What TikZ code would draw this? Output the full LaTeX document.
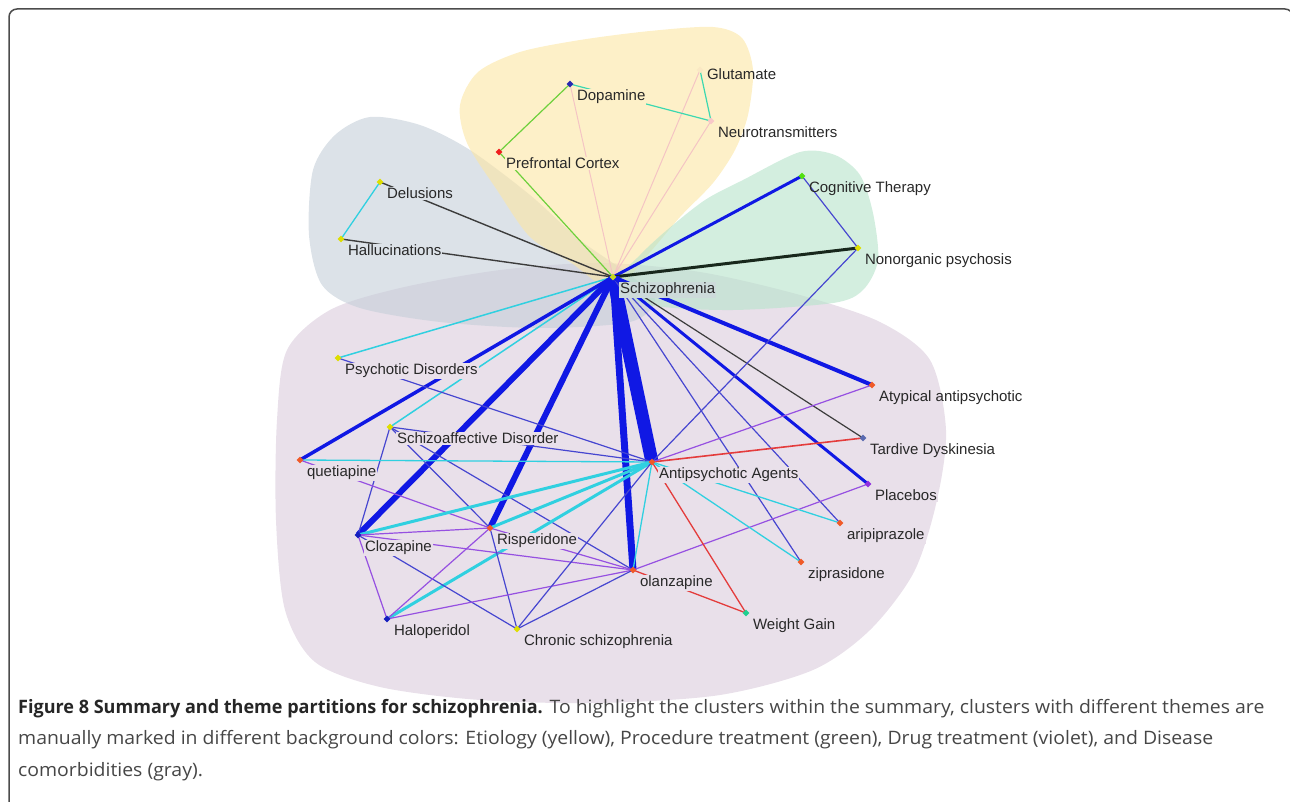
\documentclass[tikz,border=0pt]{standalone}
\usepackage{fontspec}
\usetikzlibrary{shapes.geometric}
\newfontfamily\lblfont{Liberation Sans}
\newfontfamily\capfont[FakeStretch=1.05, BoldFeatures={FakeStretch=0.975}]{Open Sans}
\definecolor{vbg}{RGB}{233,224,234}
\definecolor{gbg}{RGB}{220,226,232}
\definecolor{ybg}{RGB}{253,240,200}
\definecolor{sbg}{RGB}{205,218,218}
\definecolor{hullV}{RGB}{218,203,220}
\definecolor{hullG}{RGB}{197,207,217}
\definecolor{hullY}{RGB}{252,230,163}
\definecolor{hullN}{RGB}{182,227,202}
\definecolor{thickblue}{RGB}{16,24,228}
\definecolor{thinblue}{RGB}{70,70,208}
\definecolor{cyanline}{RGB}{48,208,224}
\definecolor{violine}{RGB}{150,80,225}
\definecolor{redline}{RGB}{228,60,60}
\definecolor{greenline}{RGB}{110,208,60}
\definecolor{pinkline}{RGB}{244,196,196}
\definecolor{tealline}{RGB}{60,216,176}
\definecolor{darkline}{RGB}{60,60,60}
\definecolor{nonline}{RGB}{24,40,28}
\definecolor{mkorange}{RGB}{240,90,40}
\definecolor{mkyellow}{RGB}{222,222,0}
\definecolor{mkblue}{RGB}{20,30,190}
\definecolor{mkschiz}{RGB}{200,216,32}
\definecolor{mkdopa}{RGB}{40,40,176}
\definecolor{mkglut}{RGB}{250,232,196}
\definecolor{mkneuro}{RGB}{248,200,200}
\definecolor{mkpfc}{RGB}{240,30,30}
\definecolor{mkcogn}{RGB}{80,224,16}
\definecolor{mktard}{RGB}{90,106,176}
\definecolor{mkplac}{RGB}{144,48,224}
\definecolor{mkwgain}{RGB}{32,208,144}
\definecolor{lbltxt}{RGB}{40,40,40}
\definecolor{captxt}{RGB}{70,70,70}
\pgfdeclarelayer{hulls}
\pgfdeclarelayer{edges}
\pgfsetlayers{hulls,edges,main}
\begin{document}
\begin{tikzpicture}[x=1pt, y=-1pt,
	mk/.style={diamond, fill=#1, inner sep=0pt, minimum size=7pt},
	lbl/.style={font=\lblfont\fontsize{15}{18}\selectfont, text=lbltxt, fill=#1, inner sep=1pt, xshift=4pt, yshift=-3pt},
	lbl/.default=none,
	edgeB/.style={draw=thickblue, line width=#1},
	edgeT/.style={draw=thinblue, line width=1.2pt},
	edgeC/.style={draw=cyanline, line width=#1},
	edgeC/.default=1.3pt,
	edgeV/.style={draw=violine, line width=1.2pt},
	edgeR/.style={draw=redline, line width=1.3pt},
	edgeK/.style={draw=darkline, line width=1.4pt},
	edgeG/.style={draw=greenline, line width=1.2pt},
	edgeP/.style={draw=pinkline, line width=1pt},
	edgeQ/.style={draw=tealline, line width=1.2pt},
	hull/.style={fill=#1, fill opacity=0.6, draw=none}]
\useasboundingbox (0,0) rectangle (1290,802);
\draw[rounded corners=8pt, line width=1.5pt, draw=black!70] (9,9) rectangle (1293,830);
\node[mk=mkschiz, label={[lbl=sbg, name=schizL]below right:Schizophrenia}] (schiz) at (613,277) {};
\node[mk=mkdopa, label={[lbl=ybg, name=dopaL]below right:Dopamine}] (dopa) at (570,84) {};
\node[mk=mkglut, label={[lbl, name=glutL, yshift=7pt]below right:Glutamate}] (glut) at (700,70) {};
\node[mk=mkneuro, label={[lbl, name=neuroL]below right:Neurotransmitters}] (neuro) at (711,121) {};
\node[mk=mkpfc, label={[lbl=ybg, name=pfcL]below right:Prefrontal Cortex}] (pfc) at (499,152) {};
\node[mk=mkyellow, label={[lbl=gbg, name=deluL]below right:Delusions}] (delu) at (380,182) {};
\node[mk=mkyellow, label={[lbl=gbg, name=hallL]below right:Hallucinations}] (hall) at (341,239) {};
\node[mk=mkcogn, label={[lbl, name=cognL]below right:Cognitive Therapy}] (cogn) at (802,176) {};
\node[mk=mkyellow, label={[lbl, name=nonorgL]below right:Nonorganic psychosis}] (nonorg) at (858,248) {};
\node[mk=mkyellow, label={[lbl=vbg, name=psydisL]below right:Psychotic Disorders}] (psydis) at (338,358) {};
\node[mk=mkyellow, label={[lbl=vbg, name=schaffL]below right:Schizoaffective Disorder}] (schaff) at (390,427) {};
\node[mk=mkorange, label={[lbl=vbg, name=quetL]below right:quetiapine}] (quet) at (300,460) {};
\node[mk=mkorange, label={[lbl=vbg, name=apaL]below right:Antipsychotic Agents}] (apa) at (652,462) {};
\node[mk=mkorange, label={[lbl, name=atypL]below right:Atypical antipsychotic}] (atyp) at (872,385) {};
\node[mk=mktard, label={[lbl, name=tardL]below right:Tardive Dyskinesia}] (tard) at (863,438) {};
\node[mk=mkplac, label={[lbl=vbg, name=placL]below right:Placebos}] (plac) at (868,484) {};
\node[mk=mkorange, label={[lbl=vbg, name=aripL]below right:aripiprazole}] (arip) at (840,523) {};
\node[mk=mkorange, label={[lbl=vbg, name=ziprL]below right:ziprasidone}] (zipr) at (801,562) {};
\node[mk=mkwgain, label={[lbl=vbg, name=wgainL]below right:Weight Gain}] (wgain) at (746,613) {};
\node[mk=mkorange, label={[lbl=vbg, name=olanL]below right:olanzapine}] (olan) at (633,570) {};
\node[mk=mkorange, label={[lbl=vbg, name=rispL]below right:Risperidone}] (risp) at (490,528) {};
\node[mk=mkblue, label={[lbl=vbg, name=clozL]below right:Clozapine}] (cloz) at (358,535) {};
\node[mk=mkblue, label={[lbl=vbg, name=haloL]below right:Haloperidol}] (halo) at (387,619) {};
\node[mk=mkyellow, label={[lbl=vbg, name=chronL]below right:Chronic schizophrenia}] (chron) at (517,629) {};
\node[anchor=north west, align=left, inner sep=0pt, text=captxt, font=\capfont\fontsize{18.5}{31.5}\selectfont] (cap) at (18,699) {{\bfseries\color{black!85}Figure 8 Summary and theme partitions for schizophrenia.} To highlight the clusters within the summary, clusters with different themes are\\ manually marked in different background colors: Etiology (yellow), Procedure treatment (green), Drug treatment (violet), and Disease\\ comorbidities (gray).};
\begin{pgfonlayer}{hulls}
\path[hull=hullV] plot[smooth cycle] coordinates {(277,420) (287,350) (330,310) (400,288) (500,270) (600,263) (700,272) (800,295) (880,322) (930,360) (946,430) (937,500) (914,572) (870,630) (813,670) (720,695) (600,703) (480,700) (380,687) (315,662) (285,610) (276,520)};
\path[hull=hullG] plot[smooth cycle] coordinates {(313,170) (335,135) (370,117) (420,125) (470,150) (530,195) (580,240) (630,275) (655,300) (630,322) (540,328) (440,322) (360,308) (322,285) (309,235)};
\path[hull=hullY] plot[smooth cycle] coordinates {(613,290) (570,262) (530,237) (497,190) (467,143) (460,105) (478,72) (520,52) (580,40) (650,31) (713,27) (742,38) (753,70) (748,115) (735,150) (713,183) (680,217) (645,258)};
\path[hull=hullN] plot[smooth cycle] coordinates {(615,285) (640,255) (667,230) (705,200) (743,180) (800,152) (835,155) (860,175) (873,213) (878,260) (863,290) (833,303) (733,310) (650,305)};
\end{pgfonlayer}
\begin{pgfonlayer}{edges}
\draw[edgeK] (schiz.center) to (delu.center);
\draw[edgeK] (schiz.center) to (hall.center);
\draw[edgeG] (schiz.center) to (pfc.center);
\draw[edgeP] (schiz.center) to (dopa.center);
\draw[edgeP] (schiz.center) to (glut.center);
\draw[edgeP] (schiz.center) to (neuro.center);
\draw[edgeB=3pt] (schiz.center) to (cogn.center);
\draw[draw=nonline, line width=3pt] (schiz.center) to (nonorg.center);
\draw[edgeC=1.5pt] (schiz.center) to (psydis.center);
\draw[edgeC=1.5pt] (schiz.center) to (schaff.center);
\draw[edgeB=3.5pt] (schiz.center) to (quet.center);
\draw[edgeB=6pt] (schiz.center) to (cloz.center);
\draw[edgeB=6pt] (schiz.center) to (risp.center);
\draw[edgeB=7pt] (schiz.center) to (olan.center);
\draw[edgeB=13pt] (schiz.center) to (apa.center);
\draw[edgeT] (schiz.center) to (zipr.center);
\draw[edgeT] (schiz.center) to (arip.center);
\draw[edgeK, line width=1.2pt] (schiz.center) to (tard.center);
\draw[edgeB=3pt] (schiz.center) to (plac.center);
\draw[edgeB=4pt] (schiz.center) to (atyp.center);
\draw[edgeT] (cogn.center) to (nonorg.center);
\draw[edgeT] (nonorg.center) to (apa.center);
\draw[edgeG] (dopa.center) to (pfc.center);
\draw[edgeQ] (dopa.center) to (neuro.center);
\draw[edgeQ] (glut.center) to (neuro.center);
\draw[edgeC] (delu.center) to (hall.center);
\draw[edgeT] (psydis.center) to (apa.center);
\draw[edgeT] (schaff.center) to (apa.center);
\draw[edgeT] (schaff.center) to (cloz.center);
\draw[edgeT] (schaff.center) to (risp.center);
\draw[edgeT] (schaff.center) to (olan.center);
\draw[edgeC] (quet.center) to (apa.center);
\draw[edgeV] (quet.center) to (risp.center);
\draw[edgeC=3pt] (cloz.center) to (apa.center);
\draw[edgeC=3pt] (risp.center) to (apa.center);
\draw[edgeC=3pt] (halo.center) to (apa.center);
\draw[edgeC] (olan.center) to (apa.center);
\draw[edgeV] (cloz.center) to (risp.center);
\draw[edgeV] (cloz.center) to (olan.center);
\draw[edgeV] (cloz.center) to (halo.center);
\draw[edgeT] (cloz.center) to (chron.center);
\draw[edgeV] (risp.center) to (halo.center);
\draw[edgeT] (risp.center) to (chron.center);
\draw[edgeV] (risp.center) to (olan.center);
\draw[edgeV] (halo.center) to (olan.center);
\draw[edgeT] (chron.center) to (apa.center);
\draw[edgeT] (chron.center) to (olan.center);
\draw[edgeV] (olan.center) to (plac.center);
\draw[edgeR] (olan.center) to (wgain.center);
\draw[edgeR] (apa.center) to (wgain.center);
\draw[edgeR, line width=1.6pt] (apa.center) to (tard.center);
\draw[edgeV] (apa.center) to (atyp.center);
\draw[edgeC] (apa.center) to (arip.center);
\draw[edgeC] (apa.center) to (zipr.center);
\end{pgfonlayer}
\end{tikzpicture}
\end{document}
